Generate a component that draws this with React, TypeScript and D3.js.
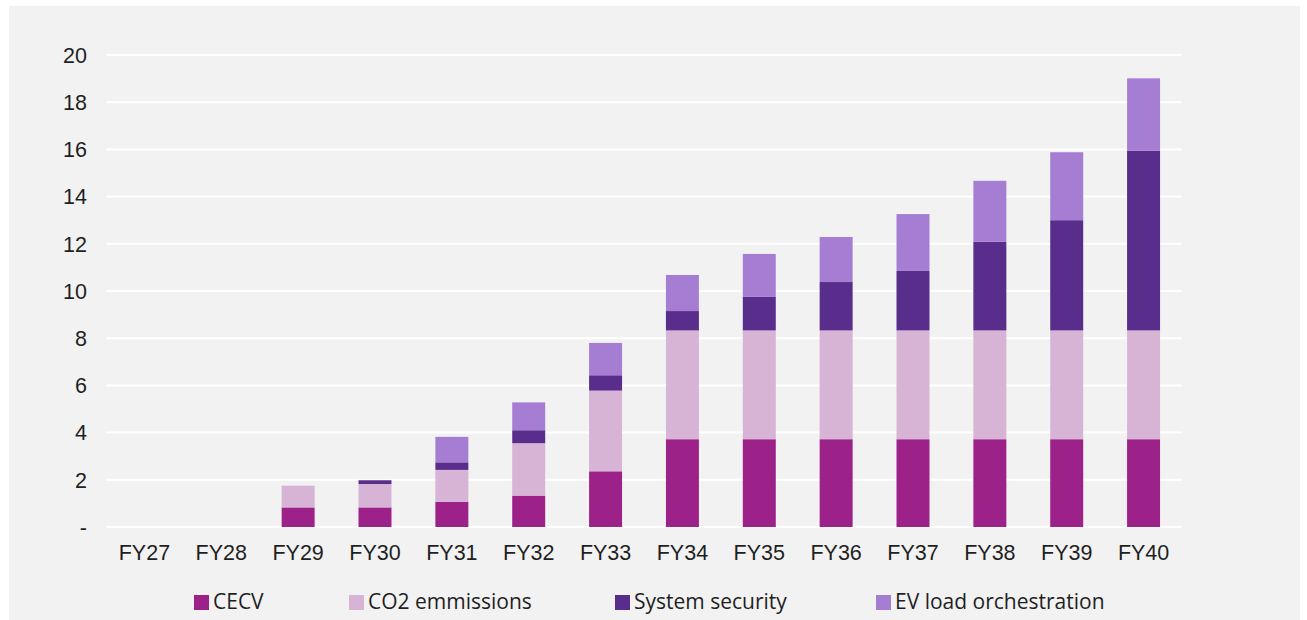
import React from "react";
import * as d3 from "d3";

const categories = ["FY27", "FY28", "FY29", "FY30", "FY31", "FY32", "FY33", "FY34", "FY35", "FY36", "FY37", "FY38", "FY39", "FY40"];
const cecv = [0, 0, 0.83, 0.83, 1.07, 1.33, 2.36, 3.72, 3.72, 3.72, 3.72, 3.72, 3.72, 3.72];
const co2 = [0, 0, 0.92, 0.99, 1.35, 2.22, 3.42, 4.61, 4.61, 4.61, 4.61, 4.61, 4.61, 4.61];
const systemSecurity = [0, 0, 0, 0.16, 0.32, 0.55, 0.65, 0.82, 1.42, 2.05, 2.52, 3.76, 4.67, 7.62];
const evLoad = [0, 0, 0, 0, 1.08, 1.18, 1.37, 1.53, 1.82, 1.91, 2.41, 2.58, 2.88, 3.06];
const yTicks = [0, 2, 4, 6, 8, 10, 12, 14, 16, 18, 20];

const seriesNames = ["CECV", "CO2 emmissions", "System security", "EV load orchestration"];
const seriesColors = ["#9C2188", "#D7B4D5", "#582D8B", "#A57ED4"];

const W = 1307;
const H = 620;

export default function App() {
  const rows = categories.map((c, i) => ({
    cat: c,
    s0: cecv[i],
    s1: co2[i],
    s2: systemSecurity[i],
    s3: evLoad[i],
  }));
  const keys = ["s0", "s1", "s2", "s3"];
  const stacked = d3.stack<any>().keys(keys)(rows);

  const x = d3.scaleBand<string>().domain(categories).range([106, 1182]).paddingInner(0.571).paddingOuter(0.2855);
  const y = d3.scaleLinear().domain([0, 20]).range([527, 55]);

  const legendX = [194, 349, 615, 876];

  return (
    <svg width={W} height={H} style={{ position: "absolute", left: 0, top: 0 }}>
      <rect x={0} y={0} width={W} height={H} fill="#ffffff" />
      <rect x={9} y={6} width={1291} height={H - 6} fill="#f2f2f2" />
      {yTicks.map((t) => (
        <g key={t}>
          <line x1={106} x2={1182} y1={y(t)} y2={y(t)} stroke="#ffffff" strokeWidth={2} />
          <text
            x={87}
            y={y(t)}
            dy="0.36em"
            textAnchor="end"
            fontFamily="Liberation Sans, Arial, sans-serif"
            fontSize={21.5}
            fill="#1f1f1f"
          >
            {t === 0 ? "-" : t}
          </text>
        </g>
      ))}
      {stacked.map((layer, li) => (
        <g key={li} fill={seriesColors[li]}>
          {layer.map((d: any, i: number) =>
            d[1] - d[0] > 0 ? (
              <rect
                key={i}
                x={x(categories[i])!}
                y={y(d[1])}
                width={x.bandwidth()}
                height={y(d[0]) - y(d[1])}
              />
            ) : null
          )}
        </g>
      ))}
      {categories.map((c) => (
        <text
          key={c}
          x={x(c)! + x.bandwidth() / 2}
          y={560}
          textAnchor="middle"
          fontFamily="Liberation Sans, Arial, sans-serif"
          fontSize={21.5}
          fill="#1f1f1f"
        >
          {c}
        </text>
      ))}
      {seriesNames.map((n, i) => (
        <g key={n}>
          <rect x={legendX[i]} y={595} width={15} height={15} fill={seriesColors[i]} />
          <text
            x={legendX[i] + 19}
            y={609}
            fontFamily="Open Sans, sans-serif"
            fontSize={21}
            fill="#1f1f1f"
          >
            {n}
          </text>
        </g>
      ))}
    </svg>
  );
}
